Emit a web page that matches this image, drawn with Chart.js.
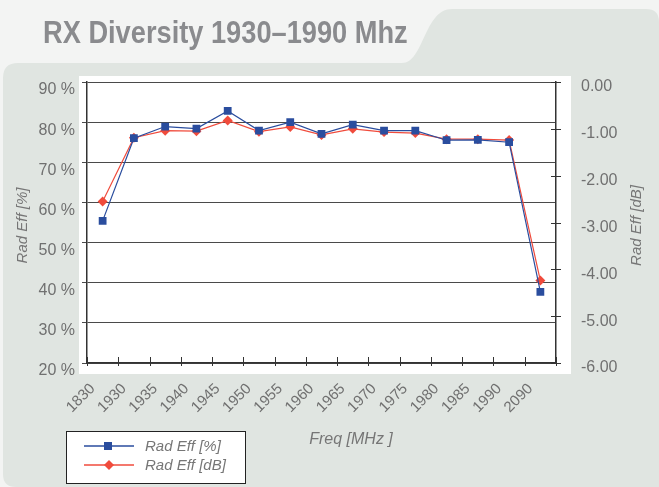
<!DOCTYPE html>
<html>
<head>
<meta charset="utf-8">
<title>RX Diversity 1930–1990 Mhz</title>
<script src="https://cdn.jsdelivr.net/npm/chart.js@4.4.1/dist/chart.umd.min.js"></script>
<style>
    html, body { margin: 0; padding: 0; background: #f3f4f3; }
    #wrap { position: relative; width: 659px; height: 487px; overflow: hidden; }
    #myChart { position: absolute; left: 0; top: 0; }
    #title {
        position: absolute; left: 43px; top: 16px; z-index: 2;
        font: bold 32px "Liberation Sans Narrow", "Liberation Sans", sans-serif;
        line-height: 32px; color: #8a8b8e; white-space: nowrap;
        transform-origin: 0 0;
    }
</style>
</head>
<body>
<div id="wrap">
    <div id="title">RX Diversity 1930–1990 Mhz</div>
    <canvas id="myChart" width="659" height="487"></canvas>
</div>
<script>
// data
const freqLabels = ['1830', '1930', '1935', '1940', '1945', '1950', '1955', '1960',
                    '1965', '1970', '1975', '1980', '1985', '1990', '2090'];
const radEffPct = [55.4, 76.0, 78.9, 78.4, 82.8, 77.9, 80.0, 77.1, 79.4, 77.9, 77.9, 75.5, 75.6, 75.0, 37.7];
const radEffDb = [-2.55, -1.19, -1.04, -1.05, -0.82, -1.06, -0.96, -1.13, -1.00, -1.07, -1.09, -1.22, -1.22, -1.24, -4.24];
const pctRange = [20, 90];
const dbRange = [-6, 0];

const blue = '#2a4d9e';
const red = '#f04b3c';
const tickColor = '#707070';
const axisColor = '#333333';

// stretch the title to the width it has in the picture
const title = document.getElementById('title');
title.style.transform = 'scaleX(' + (365 / title.offsetWidth) + ')';

const backdrop = {
    id: 'backdrop',
    beforeDraw(chart) {
        const ctx = chart.ctx;
        ctx.save();
        ctx.fillStyle = '#f3f4f3';
        ctx.fillRect(0, 0, chart.width, chart.height);

        // grey panel with the tab at top right
        ctx.fillStyle = '#e0e5e1';
        ctx.beginPath();
        ctx.moveTo(3, 78);
        ctx.quadraticCurveTo(3, 63, 18, 63);
        ctx.lineTo(402, 63);
        ctx.bezierCurveTo(424, 63, 424, 9, 452, 9);
        ctx.lineTo(646, 9);
        ctx.quadraticCurveTo(659, 9, 659, 22);
        ctx.lineTo(659, 487);
        ctx.lineTo(16, 487);
        ctx.quadraticCurveTo(3, 487, 3, 474);
        ctx.closePath();
        ctx.fill();

        // white plot background
        ctx.fillStyle = '#ffffff';
        ctx.fillRect(79, 76, 492, 298);
        ctx.restore();
    },
    beforeDatasetsDraw(chart) {
        // tick marks crossing the bottom and right axes
        const ctx = chart.ctx;
        const xs = chart.scales.x;
        const ys = chart.scales.y1;
        ctx.save();
        ctx.strokeStyle = axisColor;
        ctx.lineWidth = 1;
        ctx.beginPath();
        for (let i = 0; i <= chart.data.labels.length; i++) {
            const px = Math.round(xs.getPixelForValue(i - 0.5)) + 0.5;
            ctx.moveTo(px, xs.top - 6);
            ctx.lineTo(px, xs.top + 3);
        }
        ys.ticks.forEach(t => {
            const py = Math.round(ys.getPixelForValue(t.value)) + 0.5;
            ctx.moveTo(ys.left - 5, py);
            ctx.lineTo(ys.left + 5, py);
        });
        ctx.stroke();
        ctx.restore();
    },
    afterDraw(chart) {
        const ctx = chart.ctx;
        const area = chart.chartArea;
        const midY = (area.top + area.bottom) / 2 + 3;
        ctx.save();
        ctx.fillStyle = '#767676';
        ctx.textAlign = 'center';
        ctx.textBaseline = 'middle';
        ctx.font = 'italic 15px "Liberation Sans", sans-serif';

        // axis titles, both reading bottom to top
        ctx.save();
        ctx.translate(23, midY);
        ctx.rotate(-Math.PI / 2);
        ctx.fillText('Rad Eff [%]', 0, 0);
        ctx.restore();

        ctx.save();
        ctx.translate(637, midY);
        ctx.rotate(-Math.PI / 2);
        ctx.fillText('Rad Eff [dB]', 0, 0);
        ctx.restore();

        ctx.font = 'italic 16px "Liberation Sans", sans-serif';
        ctx.fillText('Freq [MHz ]', 351, 440);

        // legend box
        ctx.fillStyle = '#ffffff';
        ctx.fillRect(66, 431, 179, 52);
        ctx.strokeStyle = '#222222';
        ctx.lineWidth = 1;
        ctx.strokeRect(66.5, 431.5, 179, 52);

        ctx.font = 'italic 15px "Liberation Sans", sans-serif';
        ctx.textAlign = 'left';
        chart.data.datasets.forEach((ds, i) => {
            const y = 446 + i * 19;
            ctx.strokeStyle = ds.borderColor;
            ctx.lineWidth = 1.5;
            ctx.beginPath();
            ctx.moveTo(84, y);
            ctx.lineTo(134, y);
            ctx.stroke();
            ctx.fillStyle = ds.pointBackgroundColor;
            ctx.beginPath();
            if (ds.pointStyle === 'rect') {
                ctx.rect(104, y - 4, 8, 8);
            } else {
                ctx.moveTo(109, y - 5);
                ctx.lineTo(114, y);
                ctx.lineTo(109, y + 5);
                ctx.lineTo(104, y);
                ctx.closePath();
            }
            ctx.fill();
            ctx.fillStyle = '#767676';
            ctx.fillText(ds.label, 145, y + 1);
        });
        ctx.restore();
    }
};

let ctx = document.getElementById('myChart').getContext('2d');
let myChart = new Chart(ctx, {
    type: 'line',
    data: {
        labels: freqLabels,
        datasets: [
            {
                label: 'Rad Eff [%]',
                data: radEffPct,
                yAxisID: 'y',
                borderColor: blue,
                backgroundColor: blue,
                pointBackgroundColor: blue,
                pointBorderColor: blue,
                pointStyle: 'rect',
                pointRadius: 5.5,
                pointBorderWidth: 0,
                borderWidth: 1.2,
                tension: 0,
            },
            {
                label: 'Rad Eff [dB]',
                data: radEffDb,
                yAxisID: 'y1',
                borderColor: red,
                backgroundColor: red,
                pointBackgroundColor: red,
                pointBorderColor: red,
                pointStyle: 'rectRot',
                pointRadius: 5,
                pointBorderWidth: 0,
                borderWidth: 1.2,
                tension: 0,
            },
        ],
    },
    options: {
        responsive: false,
        animation: false,
        layout: { padding: { top: 82, left: 0, right: 0, bottom: 0 } },
        plugins: {
            legend: { display: false },
            tooltip: { enabled: false },
        },
        scales: {
            x: {
                type: 'category',
                offset: true,
                afterFit: (scale) => { scale.height = 124; },
                grid: { display: false, drawTicks: false },
                border: { color: axisColor, width: 1.5 },
                ticks: {
                    autoSkip: false,
                    minRotation: 45,
                    maxRotation: 45,
                    padding: 17,
                    labelOffset: -10,
                    color: tickColor,
                    font: { family: '"Liberation Sans", sans-serif', size: 15 },
                },
            },
            y: {
                position: 'left',
                min: pctRange[0],
                max: pctRange[1],
                afterFit: (scale) => { scale.width = 87; },
                grid: { color: '#4a4a4a', tickLength: 5 },
                border: { color: axisColor, width: 1.5 },
                ticks: {
                    stepSize: 10,
                    padding: 7,
                    labelOffset: 8,
                    color: tickColor,
                    font: { family: '"Liberation Sans", sans-serif', size: 16 },
                    callback: (v) => v + ' %',
                },
            },
            y1: {
                position: 'right',
                min: dbRange[0],
                max: dbRange[1],
                afterFit: (scale) => { scale.width = 103; },
                grid: { display: false, drawTicks: false },
                border: { color: axisColor, width: 1.5 },
                ticks: {
                    stepSize: 1,
                    padding: 25,
                    crossAlign: 'near',
                    labelOffset: 5,
                    color: tickColor,
                    font: { family: '"Liberation Sans", sans-serif', size: 16 },
                    callback: (v) => v.toFixed(2),
                },
            },
        },
    },
    plugins: [backdrop],
});
</script>
</body>
</html>
